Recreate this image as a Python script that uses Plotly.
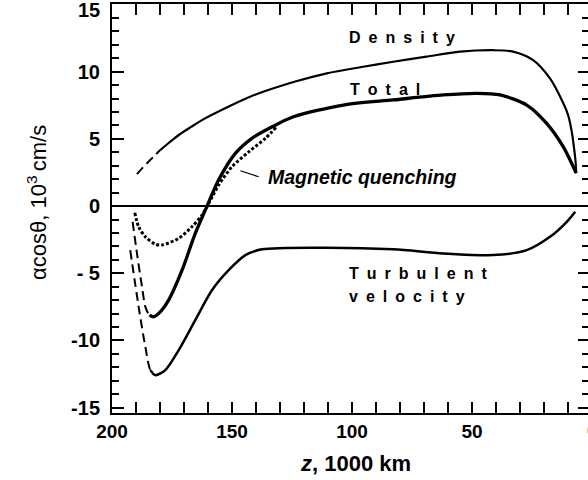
import plotly.graph_objects as go

# ---- data (z in 1000 km, values in 10^3 cm/s) ----
density_dash_z = [189.6, 187.0, 184.5, 182.0, 179.9]
density_dash_v = [2.38, 2.9, 3.35, 3.8, 4.17]
density_z = [179.9, 176.0, 172.2, 167.0, 162.5, 152.0, 142.5, 124.0, 110.5, 96.0, 82.8, 69.0, 55.0, 41.1, 32.9, 24.5, 17.5, 12.0, 10.0, 8.4, 7.4, 6.8, 6.6]
density_v = [4.17, 4.75, 5.29, 5.9, 6.4, 7.35, 8.14, 9.25, 9.88, 10.35, 10.74, 11.12, 11.49, 11.6, 11.5, 10.87, 9.5, 7.67, 6.8, 5.5, 4.2, 3.2, 2.45]

total_dash_z = [191.4, 189.6, 187.5, 186.1, 184.4, 182.6, 179.5]
total_dash_v = [-1.17, -3.52, -6.0, -7.5, -8.12, -8.24, -7.8]
total_z = [184.4, 182.6, 179.5, 176.4, 170.8, 165.3, 160.4, 155.6, 148.6, 141.7, 133.3, 124.4, 103.6, 82.8, 62.0, 48.0, 38.3, 27.2, 18.9, 12.0, 6.6]
total_v = [-8.12, -8.24, -7.8, -7.0, -4.77, -2.03, 0.0, 1.94, 3.92, 5.04, 5.9, 6.65, 7.52, 7.9, 8.27, 8.39, 8.27, 7.52, 6.16, 4.42, 2.45]

turb_dash_z = [192.4, 188.9, 186.1, 184.0, 182.0, 177.8]
turb_dash_v = [-3.28, -7.5, -10.48, -12.21, -12.58, -12.21]
turb_z = [184.0, 182.0, 177.8, 172.2, 165.3, 158.3, 151.4, 144.4, 137.5, 110.5, 82.8, 62.0, 41.1, 27.2, 17.5, 10.5, 7.0]
turb_v = [-12.21, -12.58, -12.21, -10.72, -8.49, -6.25, -4.77, -3.65, -3.22, -3.1, -3.22, -3.52, -3.65, -3.28, -2.29, -1.17, -0.42]

quench_z = [190.5, 188.9, 186.1, 182.0, 179.2, 172.2, 166.7, 162.5, 159.7, 155.6, 150.0, 143.0, 136.1, 131.4]
quench_v = [-0.5, -1.54, -2.29, -2.83, -2.9, -2.4, -1.54, -0.67, 0.2, 1.56, 2.93, 4.04, 5.04, 5.9]

x_tickvals = [200, 150, 100, 50]
x_ticktext = ["200", "150", "100", "50"]
y_tickvals = [-15, -10, -5, 0, 5, 10, 15]
y_ticktext = ["-15", "-10", "- 5", "0", "5", "10", ""]

FONT = "Arial, Liberation Sans, sans-serif"
BLACK = "#000000"
SP = "\u2002"

fig = go.Figure()

def add(z, v, width, dash="solid"):
    fig.add_trace(go.Scatter(x=z, y=v, mode="lines", line=dict(color=BLACK, width=width, dash=dash, shape="spline", smoothing=0.8), hoverinfo="skip", showlegend=False))

add(density_dash_z, density_dash_v, 2, "9px,5px")
add(density_z, density_v, 2.2)
add(total_z, total_v, 3.3)
add(total_dash_z, total_dash_v, 2, "9px,5px")
add(turb_z, turb_v, 2.5)
add(turb_dash_z, turb_dash_v, 2, "9px,5px")
add(quench_z, quench_v, 3, "3px,2px")
# invisible trace on the right-hand axis
fig.add_trace(go.Scatter(x=[100], y=[0], yaxis="y2", mode="markers", marker=dict(opacity=0), hoverinfo="skip", showlegend=False))

x_lo = 200 - 476 / 2.4

fig.update_layout(
    width=588, height=480,
    margin=dict(l=112, r=0, t=4, b=67),
    paper_bgcolor="white", plot_bgcolor="white",
    showlegend=False,
    xaxis=dict(range=[200, x_lo], tickvals=x_tickvals, ticktext=x_ticktext,
               ticks="inside", ticklen=11, tickwidth=2, tickcolor=BLACK,
               showline=True, linewidth=2, linecolor=BLACK, mirror="allticks",
               showgrid=False, zeroline=False,
               tickfont=dict(family=FONT, size=19, color=BLACK, weight="bold"),
               minor=dict(dtick=10, tick0=0, ticks="inside", ticklen=7, tickwidth=2, tickcolor=BLACK, showgrid=False)),
    yaxis=dict(range=[-15.4, 15.04], tickvals=y_tickvals, ticktext=y_ticktext,
               ticks="inside", ticklen=12, tickwidth=2, tickcolor=BLACK,
               showline=True, linewidth=2, linecolor=BLACK, mirror=False,
               showgrid=False, zeroline=True, zerolinecolor=BLACK, zerolinewidth=1.5,
               ticklabelstandoff=6,
               tickfont=dict(family=FONT, size=20, color=BLACK, weight="bold"),
               minor=dict(dtick=1, tick0=0, ticks="inside", ticklen=7, tickwidth=2, tickcolor=BLACK, showgrid=False)),
    yaxis2=dict(range=[-15.4, 15.04], overlaying="y", side="right", anchor="x",
                tickvals=y_tickvals, ticks="inside", ticklen=10, tickwidth=2, tickcolor=BLACK,
                showticklabels=False, showline=False, showgrid=False, zeroline=False,
                minor=dict(dtick=1, tick0=0, ticks="inside", ticklen=6, tickwidth=2, tickcolor=BLACK, showgrid=False)),
)

lab_font = dict(family=FONT, size=16, color=BLACK, weight="bold")
def label(text, x, y, font=lab_font):
    fig.add_annotation(text=text, x=x, y=y, xref="x", yref="y", xanchor="left", yanchor="middle", showarrow=False, font=font)

label(SP.join("Density"), 102.1, 12.55)
label(SP.join("Total"), 101.7, 8.71)
label(SP.join("Turbulent"), 102.1, -4.99)
label(SP.join("velocity"), 102.1, -6.75)
label("<i>Magnetic quenching</i>", 135.8, 2.18, dict(family=FONT, size=19.5, color=BLACK, weight="bold"))
fig.add_shape(type="line", x0=146.5, y0=2.63, x1=138.9, y1=2.18, xref="x", yref="y", line=dict(color=BLACK, width=1.2))

tick_font = dict(family=FONT, size=20, color=BLACK, weight="bold")
# top "15" tick label (sits slightly below the tick, as in the original)
fig.add_annotation(text="15", x=(102 - 112) / 476, y=(413 - 10) / 409, xref="paper", yref="paper", showarrow=False,
                   font=tick_font, xanchor="right", yanchor="middle")
# cut-off "0" tick label at the right edge
fig.add_annotation(text="0", x=(592 - 112) / 476, y=(413 - 430) / 409, xref="paper", yref="paper", showarrow=False,
                   font=dict(family=FONT, size=19, color=BLACK, weight="bold"), xanchor="center", yanchor="middle")

# axis titles
fig.add_annotation(text="<i>z</i>, 1000 km", x=(355 - 112) / 476, y=(413 - 463) / 409, xref="paper", yref="paper",
                   showarrow=False, xanchor="center", yanchor="middle",
                   font=dict(family=FONT, size=22, color=BLACK, weight="bold"))
fig.add_annotation(text="\u03b1cos\u03b8, 10<sup>3 </sup>cm/s", x=(37 - 112) / 476, y=(413 - 203) / 409, xref="paper", yref="paper",
                   showarrow=False, xanchor="center", yanchor="middle", textangle=-90,
                   font=dict(family=FONT, size=22, color=BLACK))

fig.write_html("out.html", config={"displayModeBar": False},
               post_script="document.body.style.margin='0';document.body.style.overflow='hidden';")
